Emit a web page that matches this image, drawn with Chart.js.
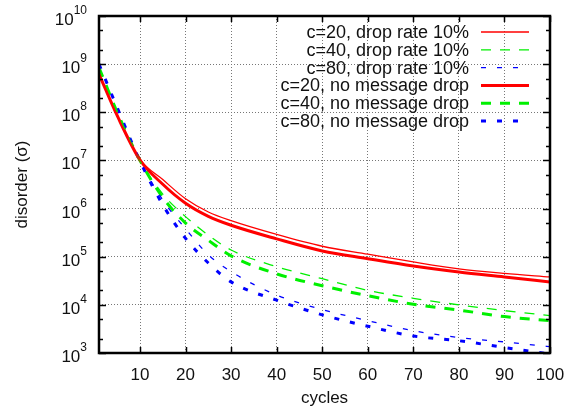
<!DOCTYPE html>
<html>
<head>
<meta charset="utf-8">
<script src="https://cdn.jsdelivr.net/npm/chart.js@4/dist/chart.umd.min.js"></script>
<style>
  html, body { margin: 0; padding: 0; background: #fff; }
  #wrap { width: 571px; height: 408px; position: relative; }
</style>
</head>
<body>
<div id="wrap"><canvas id="myChart"></canvas></div>
<script>
const cycles = [1, 5, 10, 15, 20, 25, 30, 40, 50, 60, 70, 80, 90, 100];

// drop rate 10%
const c20Drop = [6.2e8, 8.5e7, 1.05e7, 4.0e6, 1.6e6, 8.5e5, 5.6e5, 2.9e5, 1.65e5, 1.13e5, 7.8e4, 5.6e4, 4.5e4, 3.8e4];
const c40Drop = [8.5e8, 1.0e8, 1.0e7, 2.0e6, 6.8e5, 2.8e5, 1.38e5, 6.2e4, 3.5e4, 2.0e4, 1.37e4, 1.0e4, 7.6e3, 6.0e3];
const c80Drop = [1.0e9, 1.25e8, 1.0e7, 1.5e6, 3.8e5, 1.1e5, 4.9e4, 1.6e4, 8.0e3, 4.7e3, 2.9e3, 2.1e3, 1.7e3, 1.35e3];

// no message drop
const c20NoDrop = [6.2e8, 8.5e7, 1.02e7, 3.2e6, 1.29e6, 6.9e5, 4.5e5, 2.35e5, 1.32e5, 9.1e4, 6.4e4, 4.8e4, 3.8e4, 3.0e4];
const c40NoDrop = [8.5e8, 1.0e8, 1.0e7, 1.7e6, 5.0e5, 2.2e5, 1.04e5, 4.4e4, 2.5e4, 1.55e4, 1.03e4, 7.8e3, 5.7e3, 4.7e3];
const c80NoDrop = [1.0e9, 1.25e8, 9.7e6, 1.2e6, 2.4e5, 7.4e4, 3.0e4, 1.25e4, 6.2e3, 3.6e3, 2.25e3, 1.8e3, 1.3e3, 0.95e3];

const xTicks = [10, 20, 30, 40, 50, 60, 70, 80, 90, 100];
const yExponents = [3, 4, 5, 6, 7, 8, 9, 10];
const yMinor = [2, 5];

const FONT = '"Liberation Sans", Arial, Helvetica, sans-serif';

function pts(ys) {
    return cycles.map((x, i) => ({ x: x, y: ys[i] }));
}

function series(label, ys, color, width, dash) {
    return {
        label: label,
        data: pts(ys),
        borderColor: color,
        backgroundColor: color,
        borderWidth: width,
        borderDash: dash,
        pointRadius: 0,
        cubicInterpolationMode: 'monotone',
        fill: false
    };
}

const datasets = [
    series('c=20, drop rate 10%', c20Drop, '#ff0000', 1.3, []),
    series('c=40, drop rate 10%', c40Drop, '#00f000', 1.3, [10, 9]),
    series('c=80, drop rate 10%', c80Drop, '#0000ff', 1.3, [5, 11]),
    series('c=20, no message drop', c20NoDrop, '#ff0000', 3, []),
    series('c=40, no message drop', c40NoDrop, '#00f000', 3, [10, 9]),
    series('c=80, no message drop', c80NoDrop, '#0000ff', 3, [5, 11])
];

// frame, inward ticks, tick labels, titles and legend
const decor = {
    id: 'decor',
    afterDatasetsDraw(chart) {
        const ctx = chart.ctx;
        const a = chart.chartArea;
        const xs = chart.scales.x;
        const ys = chart.scales.y;
        ctx.save();
        ctx.strokeStyle = '#000';
        ctx.lineWidth = 1.5;
        ctx.beginPath();
        xTicks.forEach(v => {
            const px = Math.round(xs.getPixelForValue(v)) + 0.5;
            ctx.moveTo(px, a.bottom); ctx.lineTo(px, a.bottom - 6);
            ctx.moveTo(px, a.top); ctx.lineTo(px, a.top + 6);
        });
        yExponents.forEach(e => {
            const py = Math.round(ys.getPixelForValue(Math.pow(10, e))) + 0.5;
            ctx.moveTo(a.left, py); ctx.lineTo(a.left + 7, py);
            ctx.moveTo(a.right, py); ctx.lineTo(a.right - 7, py);
            if (e < 10) {
                yMinor.forEach(m => {
                    const pm = Math.round(ys.getPixelForValue(m * Math.pow(10, e))) + 0.5;
                    ctx.moveTo(a.left, pm); ctx.lineTo(a.left + 4, pm);
                    ctx.moveTo(a.right, pm); ctx.lineTo(a.right - 4, pm);
                });
            }
        });
        ctx.stroke();
        ctx.lineWidth = 2.5;
        ctx.strokeRect(a.left, a.top, a.right - a.left, a.bottom - a.top);

        ctx.fillStyle = '#111';
        // x tick labels
        ctx.font = '17px ' + FONT;
        ctx.textAlign = 'center';
        ctx.textBaseline = 'alphabetic';
        xTicks.forEach(v => {
            ctx.fillText(String(v), xs.getPixelForValue(v), 380);
        });
        // y tick labels 10^e
        yExponents.forEach(e => {
            const py = ys.getPixelForValue(Math.pow(10, e));
            ctx.font = '12px ' + FONT;
            const ew = ctx.measureText(String(e)).width;
            ctx.textAlign = 'left';
            ctx.fillText(String(e), 87 - ew, py - 2);
            ctx.font = '17px ' + FONT;
            ctx.textAlign = 'right';
            ctx.fillText('10', 87 - ew, py + 9);
        });
        // axis titles
        ctx.font = '17px ' + FONT;
        ctx.textAlign = 'center';
        ctx.fillText('cycles', (a.left + a.right) / 2, 403);
        ctx.save();
        ctx.translate(27, (a.top + a.bottom) / 2);
        ctx.rotate(-Math.PI / 2);
        ctx.fillText('disorder (\u03c3)', 0, 0);
        ctx.restore();

        // legend
        chart.data.datasets.forEach((d, i) => {
            const y = 32 + i * 17.8;
            ctx.fillStyle = '#111';
            ctx.font = '18px ' + FONT;
            ctx.textAlign = 'right';
            ctx.textBaseline = 'middle';
            ctx.fillText(d.label, 469, y + 1);
            ctx.strokeStyle = d.borderColor;
            ctx.lineWidth = d.borderWidth;
            ctx.setLineDash(d.borderDash);
            ctx.beginPath();
            ctx.moveTo(481, y); ctx.lineTo(529, y);
            ctx.stroke();
            ctx.setLineDash([]);
        });
        ctx.restore();
    }
};

document.addEventListener('DOMContentLoaded', () => {
    const ctx = document.getElementById('myChart').getContext('2d');
    new Chart(ctx, {
        type: 'line',
        data: { datasets: datasets },
        options: {
            animation: false,
            responsive: true,
            maintainAspectRatio: false,
            layout: { padding: { left: 0, right: 21, top: 16, bottom: 0 } },
            plugins: { legend: { display: false }, tooltip: { enabled: false } },
            scales: {
                x: {
                    type: 'linear',
                    min: 1,
                    max: 100,
                    afterBuildTicks: s => { s.ticks = xTicks.map(v => ({ value: v })); },
                    afterFit: s => { s.height = 55; },
                    ticks: { display: false },
                    grid: { color: '#777', lineWidth: 1, drawTicks: false },
                    border: { display: false, dash: [1, 2] }
                },
                y: {
                    type: 'logarithmic',
                    min: 1e3,
                    max: 1e10,
                    afterBuildTicks: s => { s.ticks = yExponents.map(e => ({ value: Math.pow(10, e) })); },
                    afterFit: s => { s.width = 99; },
                    ticks: { display: false },
                    grid: { color: '#777', lineWidth: 1, drawTicks: false },
                    border: { display: false, dash: [1, 2] }
                }
            }
        },
        plugins: [decor]
    });
});
</script>
</body>
</html>
